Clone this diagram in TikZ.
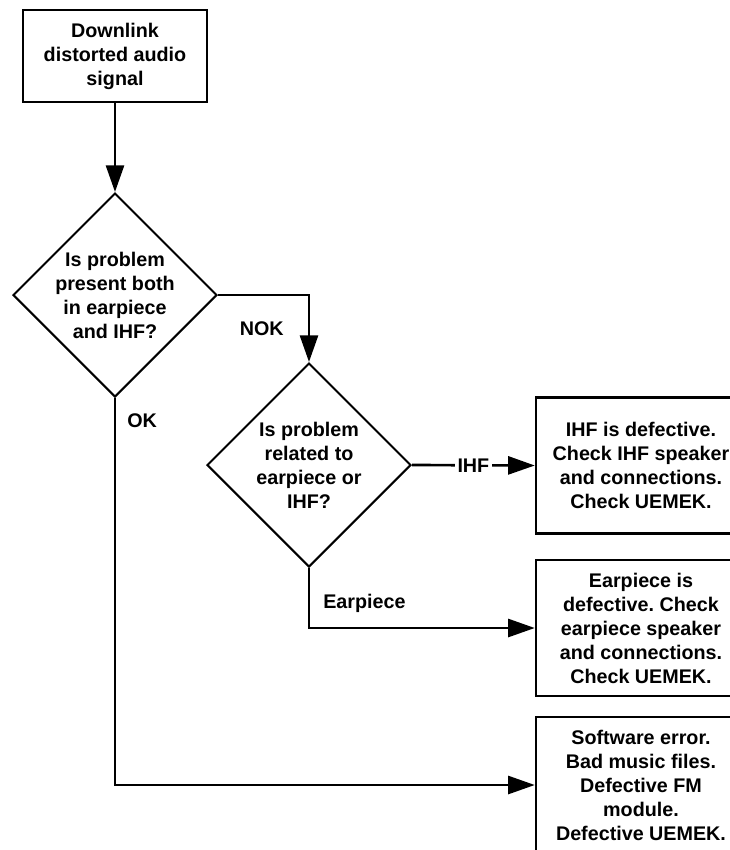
\documentclass[tikz,border=0pt]{standalone}
\usepackage{fontspec}
\setmainfont{Liberation Sans}
\usepackage{tikz}
\usetikzlibrary{shapes.geometric,arrows.meta,positioning}
\frenchspacing

\begin{document}
\begin{tikzpicture}[
    x=0.75pt, y=-0.75pt,
    txt/.style={font=\bfseries\fontsize{14.8}{18}\selectfont, align=center},
    box/.style={txt, draw, line width=1.8pt, inner sep=0pt, minimum width=157.5pt, minimum height=102pt},
    decision/.style={txt, diamond, draw, aspect=1, line width=1.5pt, inner sep=-6pt, minimum size=153pt},
    tag/.style={txt, inner sep=0pt},
    arrow/.style={-{Triangle[length=20pt, width=13.5pt]}, line width=2pt}
]
    \useasboundingbox (0,0) rectangle (730,850);
    \clip (0,0) rectangle (730,850);

    % Start of the check
    \node[box, minimum width=138pt, minimum height=69pt] (start) at (115, 56)
        {Downlink\\distorted audio\\signal};

    % Decisions
    \node[decision] (both) at (115, 295)
        {Is problem\\present both\\in earpiece\\and IHF?};
    \node[decision] (which) at (309, 465)
        {Is problem\\related to\\earpiece or\\IHF?};

    % Results
    \node[box] (ihf) at (641, 465.5)
        {IHF is defective.\\Check IHF speaker\\and connections.\\Check UEMEK.};
    \node[box] (ear) at (641, 628)
        {Earpiece is\\defective. Check\\earpiece speaker\\and connections.\\Check UEMEK.};
    \node[box] (sw) at (641, 785)
        {Software error.\\Bad music files.\\Defective FM\hspace*{0.6em}\\module.\hspace*{0.6em}\\Defective UEMEK.};

    % Connectors
    \draw[arrow] (start) -- (both);
    \draw[arrow] (both.east) -| (which.north)
        node[tag, pos=0.75, left=18pt] {NOK};
    \draw[arrow] (which.east) -- (ihf.west)
        node[tag, midway, fill=white, inner xsep=2pt] {IHF};
    \draw[arrow] (which.south) |- (ear.west)
        node[tag, pos=0, anchor=north west, below right=18.4pt and 9.75pt] {Earpiece};
    \draw[arrow] (both.south) |- (sw.west)
        node[tag, pos=0, anchor=north west, below right=10.9pt and 8.25pt] {OK};
\end{tikzpicture}
\end{document}
